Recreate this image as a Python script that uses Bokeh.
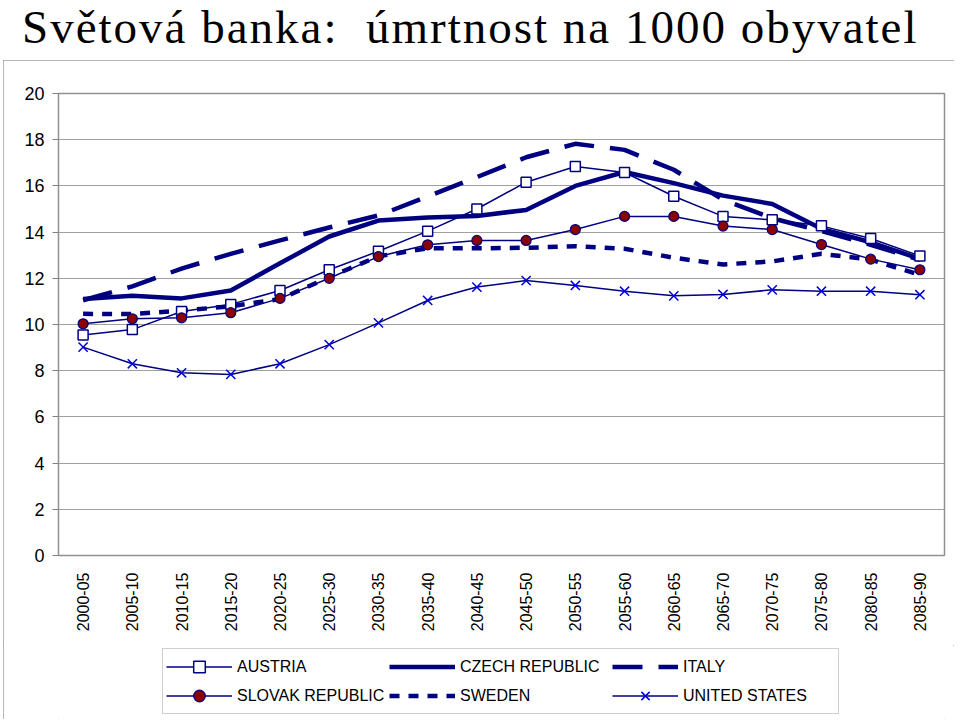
from math import pi
from bokeh.plotting import figure
from bokeh.layouts import column
from bokeh.models import (FactorRange, Range1d, FixedTicker, Legend, LegendItem, Div)
from bokeh.embed import file_html
from bokeh.resources import INLINE

periods = ["2000-05", "2005-10", "2010-15", "2015-20", "2020-25", "2025-30",
           "2030-35", "2035-40", "2040-45", "2045-50", "2050-55", "2055-60",
           "2060-65", "2065-70", "2070-75", "2075-80", "2080-85", "2085-90"]

austria = [9.55, 9.78, 10.56, 10.87, 11.47, 12.37, 13.17, 14.04, 15.0, 16.16,
           16.84, 16.58, 15.55, 14.68, 14.53, 14.27, 13.72, 12.97]
czech = [11.1, 11.24, 11.13, 11.47, 12.65, 13.81, 14.5, 14.63, 14.7, 14.96,
         16.0, 16.6, 16.12, 15.58, 15.22, 14.14, 13.56, 12.84]
italy = [11.05, 11.65, 12.42, 13.06, 13.64, 14.2, 14.72, 15.54, 16.38, 17.24,
         17.82, 17.56, 16.7, 15.4, 14.6, 14.05, 13.45, 12.8]
slovak = [10.03, 10.25, 10.29, 10.51, 11.13, 12.0, 12.94, 13.45, 13.64, 13.64,
          14.11, 14.68, 14.68, 14.26, 14.11, 13.46, 12.83, 12.37]
sweden = [10.46, 10.45, 10.6, 10.79, 11.1, 12.05, 12.95, 13.3, 13.3, 13.32,
          13.39, 13.28, 12.89, 12.6, 12.73, 13.06, 12.81, 12.15]
usa = [9.02, 8.3, 7.91, 7.84, 8.3, 9.13, 10.07, 11.04, 11.62, 11.9,
       11.69, 11.44, 11.24, 11.3, 11.5, 11.44, 11.44, 11.29]

series_names = ["AUSTRIA", "CZECH REPUBLIC", "ITALY",
                "SLOVAK REPUBLIC", "SWEDEN", "UNITED STATES"]
title_text = "Světová banka:  úmrtnost na 1000 obyvatel"
y_ticks = list(range(0, 21, 2))

NAVY = "#000080"
GRAY = "#a0a0a0"

title_div = Div(text=title_text, width=958, height=60, margin=0,
                styles={"font-family": "Liberation Serif", "font-size": "47px",
                        "line-height": "normal", "white-space": "pre",
                        "padding-left": "22px", "letter-spacing": "2px",
                        "color": "black"})

p = figure(x_range=FactorRange(*periods), y_range=Range1d(0, 20),
           width=951, height=585, output_backend="svg", toolbar_location=None,
           min_border_left=55, min_border_right=10, min_border_top=33,
           min_border_bottom=90, margin=0)

p.outline_line_color = "#909090"
p.outline_line_width = 1.5
p.xgrid.grid_line_color = None
p.ygrid.grid_line_color = GRAY
p.ygrid.grid_line_width = 1

p.yaxis.ticker = FixedTicker(ticks=y_ticks)
p.yaxis.axis_line_color = None
p.yaxis.major_tick_line_color = "#808080"
p.yaxis.major_tick_out = 6
p.yaxis.major_tick_in = 0
p.yaxis.minor_tick_line_color = None
p.yaxis.major_label_text_font = "Liberation Sans"
p.yaxis.major_label_text_font_size = "18px"
p.yaxis.major_label_text_color = "black"
p.yaxis.major_label_standoff = 8

p.xaxis.axis_line_color = None
p.xaxis.major_tick_line_color = None
p.xaxis.minor_tick_line_color = None
p.xaxis.major_label_orientation = pi / 2
p.xaxis.major_label_text_font = "Liberation Sans"
p.xaxis.major_label_text_font_size = "16px"
p.xaxis.major_label_text_color = "black"
p.xaxis.major_label_standoff = 11

styles = {
    "CZECH REPUBLIC": dict(line_width=4.5),
    "ITALY": dict(line_width=4.5, line_dash="30 16"),
    "SWEDEN": dict(line_width=4.5, line_dash="10 9"),
    "AUSTRIA": dict(line_width=1.5),
    "SLOVAK REPUBLIC": dict(line_width=1.5),
    "UNITED STATES": dict(line_width=1.5),
}
markers = {
    "AUSTRIA": dict(marker="square", size=10, fill_color="white",
                    line_color=NAVY, line_width=1.5),
    "SLOVAK REPUBLIC": dict(marker="circle", size=10, fill_color="#8b0000",
                            line_color=NAVY, line_width=1.2),
    "UNITED STATES": dict(marker="x", size=13, line_color="#0000e0",
                          line_width=1.5),
}
data = {"AUSTRIA": austria, "CZECH REPUBLIC": czech, "ITALY": italy,
        "SLOVAK REPUBLIC": slovak, "SWEDEN": sweden, "UNITED STATES": usa}

draw_order = ["CZECH REPUBLIC", "ITALY", "SWEDEN", "AUSTRIA",
              "SLOVAK REPUBLIC", "UNITED STATES"]
for name in draw_order:
    p.line(periods, data[name], line_color=NAVY, **styles[name])
    if name in markers:
        p.scatter(periods, data[name], **markers[name])

# legend panel: a figure whose view lies outside the data,
# so only its legend is visible
lg = figure(width=951, height=74, output_backend="svg", toolbar_location=None,
            x_range=FactorRange(*periods), y_range=Range1d(100, 101),
            x_axis_location=None, y_axis_location=None,
            min_border_left=55, min_border_right=10,
            min_border_top=0, min_border_bottom=0, margin=0)
lg.grid.grid_line_color = None
lg.outline_line_color = None

items = []
for name in series_names:
    rs = [lg.line(periods, data[name], line_color=NAVY, **styles[name])]
    if name in markers:
        rs.append(lg.scatter(periods, data[name], **markers[name]))
    items.append(LegendItem(label=name, renderers=rs))

legend = Legend(items=items, location=(104, 5), orientation="horizontal",
                ncols=3, glyph_width=66, glyph_height=29, label_height=29,
                label_width=152, label_standoff=5, spacing=0, padding=3,
                margin=0, border_line_color="#a0a0a0", border_line_width=1.5,
                background_fill_color="white", background_fill_alpha=1,
                label_text_font="Liberation Sans", label_text_font_size="16px",
                label_text_color="black")
lg.add_layout(legend, "center")

box = column(p, lg, spacing=0, margin=(0, 0, 0, 3),
             styles={"outline": "1.5px solid #a0a0a0", "outline-offset": "-1.5px"})

layout = column(title_div, box, spacing=0, margin=0)

open("out.html", "w").write(file_html(layout, INLINE))
